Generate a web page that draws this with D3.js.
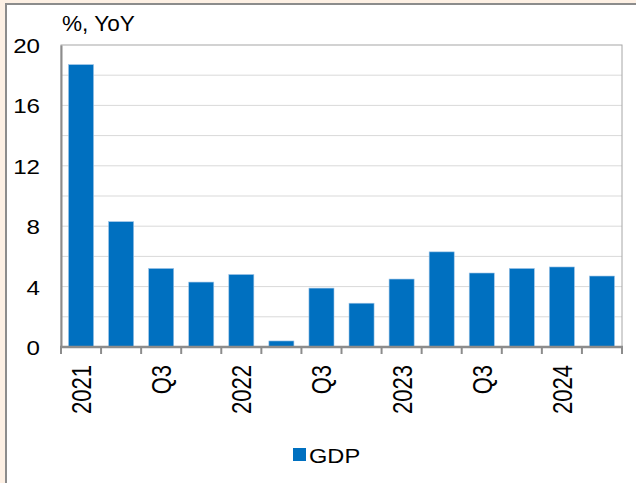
<!DOCTYPE html>
<html>
<head>
<meta charset="utf-8">
<script src="https://cdn.jsdelivr.net/npm/d3@7"></script>
<style>
  body { margin: 0; background: #fff; }
  svg { display: block; font-family: "Liberation Sans", Arial, sans-serif; }
</style>
</head>
<body>
<svg id="chart" width="636" height="483"></svg>
<script>
// quarters from 2021 Q1 to 2024 Q2
const quarters = ["2021Q1","2021Q2","2021Q3","2021Q4","2022Q1","2022Q2","2022Q3","2022Q4",
    "2023Q1","2023Q2","2023Q3","2023Q4","2024Q1","2024Q2"];
const tickLabels = ["2021","","Q3","","2022","","Q3","","2023","","Q3","","2024",""];
const gdp = [18.7, 8.3, 5.2, 4.3, 4.8, 0.4, 3.9, 2.9, 4.5, 6.3, 4.9, 5.2, 5.3, 4.7];
const yTicks = [0, 4, 8, 12, 16, 20];
const gridValues = [2, 4, 6, 8, 10, 12, 14, 16, 18];

const svg = d3.select("#chart");
const margin = { left: 61, top: 45, right: 14, bottom: 136 };
const width = 636, height = 483;
const blue = "#0070c0";

// beige frame strips on top and left
svg.append("rect").attr("width", width).attr("height", height).attr("fill", "#fff");
svg.append("rect").attr("x", 0).attr("y", 0).attr("width", width).attr("height", 3).attr("fill", "#fdf0e4");
svg.append("rect").attr("x", 0).attr("y", 0).attr("width", 5).attr("height", height).attr("fill", "#fdf0e4");
svg.append("rect").attr("x", 5).attr("y", 3).attr("width", width - 5).attr("height", 2).attr("fill", "#8c8c8c");
svg.append("rect").attr("x", 5).attr("y", 3).attr("width", 2).attr("height", height - 3).attr("fill", "#8c8c8c");

const x = d3.scaleBand().domain(quarters).range([margin.left, width - margin.right]).paddingInner(0.375).paddingOuter(0.1875);
const y = d3.scaleLinear().domain([0, 20]).range([height - margin.bottom, margin.top]);

// gridlines
svg.append("g").selectAll("line").data(gridValues).enter().append("line")
    .attr("x1", margin.left).attr("x2", width - margin.right)
    .attr("y1", d => y(d)).attr("y2", d => y(d))
    .attr("stroke", "#d9d9d9").attr("stroke-width", 1);

// plot frame (top and right)
svg.append("rect").attr("x", margin.left).attr("y", y(20))
    .attr("width", width - margin.right - margin.left).attr("height", y(0) - y(20))
    .attr("fill", "none").attr("stroke", "#a6a6a6").attr("stroke-width", 1);

// bars
svg.append("g").selectAll("rect").data(gdp).enter().append("rect")
    .attr("x", (d, i) => x(quarters[i])).attr("y", d => y(d))
    .attr("width", x.bandwidth()).attr("height", d => y(0) - y(d))
    .attr("fill", blue).attr("stroke", "#9dc3e6").attr("stroke-width", 0.6);

// y axis (text is a bit wide in the original, so stretch it)
const yAxis = d3.axisLeft(y).tickValues(yTicks).tickSize(0);
const gy = svg.append("g").attr("transform", `translate(${margin.left},0)`).call(yAxis);
gy.select(".domain").attr("stroke", "#8c8c8c").attr("stroke-width", 2);
gy.selectAll("text").attr("x", 0).attr("dy", "0.36em")
    .attr("transform", "translate(-21,0) scale(1.15,1)")
    .style("font-size", "21px").attr("fill", "#000");

// x axis with ticks at category boundaries
const xAxisY = y(0);
svg.append("line").attr("x1", margin.left - 1).attr("x2", width - margin.right + 1)
    .attr("y1", xAxisY).attr("y2", xAxisY).attr("stroke", "#8c8c8c").attr("stroke-width", 2.5);
const step = x.step();
const bounds = d3.range(quarters.length + 1).map(i => x(quarters[0]) - x.paddingOuter() * step + i * step);
svg.append("g").selectAll("line").data(bounds).enter().append("line")
    .attr("x1", d => d).attr("x2", d => d).attr("y1", xAxisY).attr("y2", xAxisY + 7)
    .attr("stroke", "#8c8c8c").attr("stroke-width", 2);

svg.append("g").selectAll("text").data(tickLabels).enter().append("text")
    .attr("transform", (d, i) => `translate(${x(quarters[i]) + x.bandwidth() / 2 + 10},${xAxisY + 18}) scale(1.25,1) rotate(-90)`)
    .attr("text-anchor", "end").style("font-size", "22px").attr("fill", "#000")
    .text(d => d);

// unit label
svg.append("text").attr("transform", "translate(62,31) scale(1.05,1)").style("font-size", "21.5px").text("%, YoY");

// legend
svg.append("rect").attr("x", 293).attr("y", 448).attr("width", 13).attr("height", 13).attr("fill", blue);
svg.append("text").attr("transform", "translate(309,463) scale(1.18,1)").style("font-size", "20px").text("GDP");
</script>
</body>
</html>
